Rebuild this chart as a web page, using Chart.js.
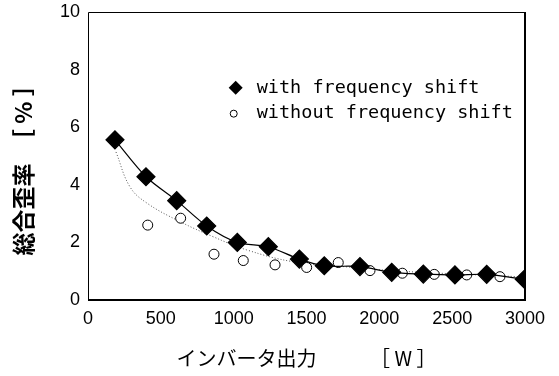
<!DOCTYPE html>
<html>
<head>
<meta charset="utf-8">
<script src="https://cdn.jsdelivr.net/npm/chart.js@4.4.1/dist/chart.umd.min.js"></script>
<style>
  html, body { margin: 0; padding: 0; background: #fff; }
  #wrap { width: 559px; height: 376px; }
</style>
</head>
<body>
<div id="wrap"><canvas id="thdChart" width="559" height="376"></canvas></div>
<script>
// インバータ出力 [W] と 総合歪率 [%]
const xWith = [185, 398, 609, 815, 1025, 1238, 1451, 1622, 1867, 2085, 2302, 2519, 2737, 2995];
const yWith = [5.56, 4.28, 3.45, 2.57, 2.0, 1.85, 1.42, 1.19, 1.16, 0.96, 0.90, 0.87, 0.89, 0.72];

const xWithout = [410, 636, 865, 1066, 1284, 1501, 1718, 1936, 2158, 2377, 2600, 2828];
const yWithout = [2.60, 2.84, 1.59, 1.37, 1.22, 1.13, 1.30, 1.02, 0.93, 0.89, 0.87, 0.81];

// dotted trend curve
const xTrend = [192, 288, 403, 632, 858, 1089, 1407, 1776, 2150, 2550, 3000];
const yTrend = [5.14, 3.93, 3.37, 2.72, 2.20, 1.74, 1.33, 1.15, 1.0, 0.9, 0.8];

const xTicks = [0, 500, 1000, 1500, 2000, 2500, 3000];
const yTicks = [0, 2, 4, 6, 8, 10];

const seriesLabels = ['with frequency shift', 'without frequency shift'];

const toPoints = (xs, ys) => xs.map((x, i) => ({ x: x, y: ys[i] }));

const frameBox = {
    id: 'frameBox',
    afterDraw(chart) {
        const { ctx, chartArea: a } = chart;
        ctx.save();
        ctx.strokeStyle = '#000';
        ctx.lineWidth = 1;
        ctx.beginPath();
        ctx.moveTo(a.left + 0.5, a.bottom);
        ctx.lineTo(a.left + 0.5, a.top + 0.5);
        ctx.lineTo(a.right, a.top + 0.5);
        ctx.stroke();
        ctx.lineWidth = 2;
        ctx.beginPath();
        ctx.moveTo(a.right, a.top);
        ctx.lineTo(a.right, a.bottom);
        ctx.lineTo(a.left, a.bottom);
        ctx.stroke();
        ctx.restore();
    }
};

const insideLegend = {
    id: 'insideLegend',
    afterDraw(chart) {
        const { ctx, chartArea: a } = chart;
        const x0 = a.left + a.width * 0.338;
        const rows = [a.top + a.height * 0.263, a.top + a.height * 0.353];
        ctx.save();
        ctx.fillStyle = '#000';
        ctx.font = '18.5px "DejaVu Sans Mono", "Liberation Mono", monospace';
        ctx.textBaseline = 'middle';
        ctx.textAlign = 'left';
        // diamond
        ctx.beginPath();
        ctx.moveTo(x0, rows[0] - 7);
        ctx.lineTo(x0 + 7, rows[0]);
        ctx.lineTo(x0, rows[0] + 7);
        ctx.lineTo(x0 - 7, rows[0]);
        ctx.closePath();
        ctx.fill();
        // small circle
        ctx.beginPath();
        ctx.arc(x0 - 2, rows[1], 3.5, 0, Math.PI * 2);
        ctx.fillStyle = '#fff';
        ctx.fill();
        ctx.strokeStyle = '#000';
        ctx.lineWidth = 1;
        ctx.stroke();
        ctx.fillStyle = '#000';
        ctx.fillText(seriesLabels[0], x0 + 21, rows[0]);
        ctx.fillText(seriesLabels[1], x0 + 21, rows[1]);
        ctx.restore();
    }
};

const ctx = document.getElementById('thdChart').getContext('2d');
const thdChart = new Chart(ctx, {
    type: 'scatter',
    data: {
        datasets: [
            {
                label: 'trend',
                data: toPoints(xTrend, yTrend),
                showLine: true,
                borderColor: '#555',
                borderWidth: 1,
                borderDash: [1, 2],
                pointRadius: 0,
                tension: 0.4,
                order: 3
            },
            {
                label: seriesLabels[1],
                data: toPoints(xWithout, yWithout),
                showLine: false,
                pointStyle: 'circle',
                pointRadius: 5,
                pointBackgroundColor: '#fff',
                pointBorderColor: '#000',
                pointBorderWidth: 1,
                order: 2
            },
            {
                label: seriesLabels[0],
                data: toPoints(xWith, yWith),
                showLine: true,
                borderColor: '#000',
                borderWidth: 1.2,
                tension: 0.3,
                pointStyle: 'rectRot',
                pointRadius: 9,
                pointBackgroundColor: '#000',
                pointBorderColor: '#000',
                order: 1
            }
        ]
    },
    options: {
        responsive: false,
        animation: false,
        layout: { padding: { left: 0, right: 34, top: 12, bottom: 0 } },
        plugins: {
            legend: { display: false },
            tooltip: { enabled: false }
        },
        scales: {
            x: {
                type: 'linear',
                min: 0,
                max: 3000,
                afterBuildTicks: (axis) => { axis.ticks = xTicks.map(v => ({ value: v })); },
                afterFit: (axis) => { axis.height = 76; },
                grid: { display: false, drawTicks: false },
                border: { display: false },
                ticks: {
                    color: '#000',
                    padding: 8,
                    maxRotation: 0,
                    callback: (v) => String(v),
                    font: { family: '"Liberation Sans", Arial, sans-serif', size: 18 }
                },
                title: {
                    display: true,
                    text: 'インバータ出力　　   ［ W ］',
                    color: '#000',
                    padding: { top: 4, bottom: 6 },
                    font: { family: '"Noto Sans CJK JP", sans-serif', size: 20 }
                }
            },
            y: {
                type: 'linear',
                min: 0,
                max: 10,
                afterBuildTicks: (axis) => { axis.ticks = yTicks.map(v => ({ value: v })); },
                afterFit: (axis) => { axis.width = 88; axis.paddingTop = 0; axis.paddingBottom = 0; },
                grid: { display: false, drawTicks: false },
                border: { display: false },
                ticks: {
                    color: '#000',
                    padding: 8,
                    font: { family: '"Liberation Sans", Arial, sans-serif', size: 18 }
                },
                title: {
                    display: true,
                    text: '総合歪率　［ % ］　 ',
                    color: '#000',
                    padding: { top: 9, bottom: 0 },
                    font: { family: '"Noto Sans CJK JP", sans-serif', size: 23, weight: 'bold' }
                }
            }
        }
    },
    plugins: [frameBox, insideLegend]
});
</script>
</body>
</html>
